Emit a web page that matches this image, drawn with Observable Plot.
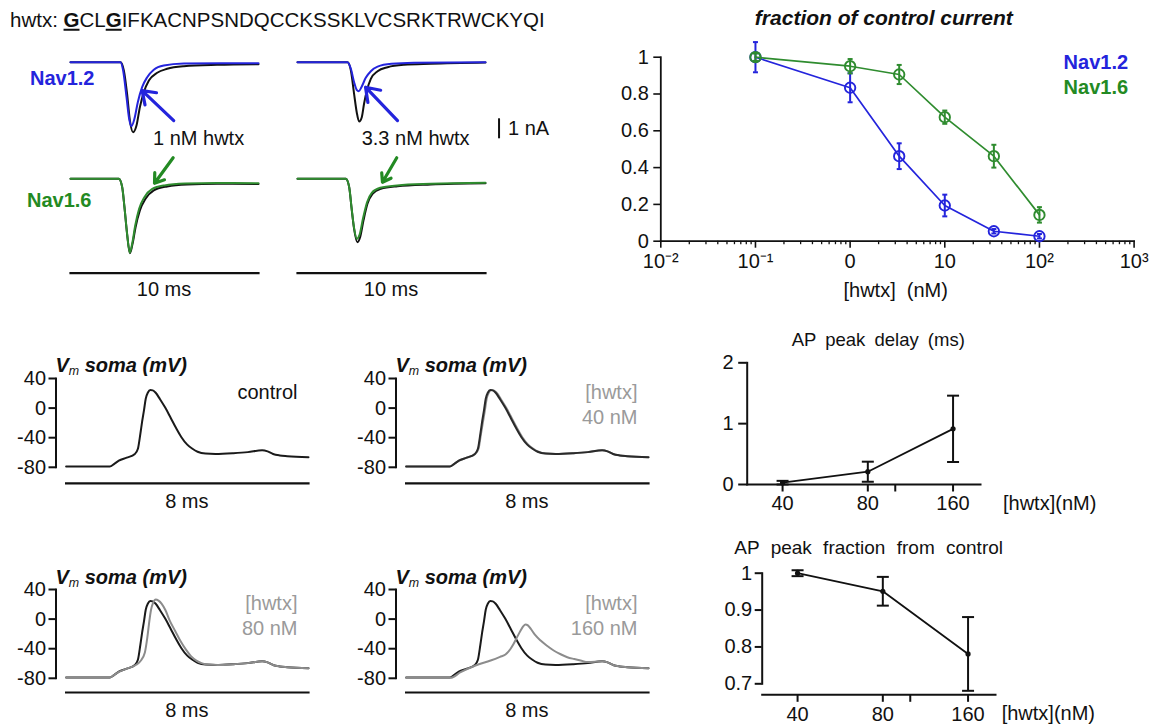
<!DOCTYPE html>
<html><head><meta charset="utf-8">
<script src="https://cdn.jsdelivr.net/npm/d3@7"></script>
<script src="https://cdn.jsdelivr.net/npm/@observablehq/plot@0.6"></script>
<style>
html,body{margin:0;padding:0;background:#fff;}
#fig{position:relative;width:1149px;height:724px;overflow:hidden;font-family:"Liberation Sans",Arial,sans-serif;color:#111;background:#fff;}
.pbox{position:absolute;}
.lbl{position:absolute;white-space:nowrap;line-height:1;}
sub{font-size:62%;vertical-align:-0.25em;line-height:0;}
</style></head><body><div id="fig"></div>
<script>
// ---------------- DATA ----------------
// Voltage-clamp Na currents (time ms, current nA)
const nav12_ctrl_A = [[0,0],[2.66,0],[2.84,-0.42],[3.01,-1.58],[3.16,-2.92],[3.33,-3.5],[3.51,-3.17],[3.69,-2.25],[3.90,-1.5],[4.17,-0.92],[4.61,-0.53],[5.14,-0.33],[6.03,-0.2],[7.8,-0.13],[10,-0.1]];
const nav12_1nM   = [[0,0],[2.66,0],[2.8,-0.42],[2.98,-1.75],[3.12,-2.83],[3.24,-3.2],[3.4,-2.83],[3.58,-2.0],[3.81,-1.25],[4.08,-0.75],[4.43,-0.38],[4.96,-0.17],[6.03,-0.07],[8,-0.05],[10,-0.05]];
const nav16_ctrl_A = [[0,0],[2.57,0],[2.75,-0.42],[2.87,-1.42],[3.01,-2.75],[3.16,-3.72],[3.3,-3.25],[3.46,-2.42],[3.69,-1.58],[3.99,-1.0],[4.43,-0.58],[5.14,-0.38],[6.2,-0.28],[7.8,-0.25],[10,-0.26]];
const nav16_1nM   = [[0,0],[2.57,0],[2.75,-0.42],[2.87,-1.42],[3.01,-2.75],[3.15,-3.7],[3.29,-3.2],[3.44,-2.35],[3.65,-1.5],[3.93,-0.92],[4.33,-0.52],[5.0,-0.33],[6.1,-0.24],[7.8,-0.21],[10,-0.22]];
const nav12_ctrl_B = [[0,0],[2.66,0],[2.84,-0.42],[3.01,-1.58],[3.15,-2.5],[3.28,-2.97],[3.42,-2.75],[3.54,-2.08],[3.69,-1.42],[3.9,-0.83],[4.26,-0.45],[4.79,-0.25],[5.67,-0.13],[7.09,-0.08],[10,-0.02]];
const nav12_3nM   = [[0,0],[2.66,0],[2.84,-0.33],[3.01,-1.0],[3.15,-1.38],[3.26,-1.45],[3.4,-1.25],[3.63,-0.78],[3.9,-0.45],[4.26,-0.22],[5.0,-0.08],[6.2,-0.03],[10,0]];
const nav16_ctrl_B = [[0,0],[2.57,0],[2.75,-0.42],[2.87,-1.42],[3.01,-2.5],[3.19,-3.17],[3.33,-2.92],[3.51,-2.08],[3.72,-1.25],[3.99,-0.75],[4.43,-0.5],[5.32,-0.37],[7.09,-0.28],[10,-0.22]];
const nav16_3nM   = [[0,0],[2.57,0],[2.75,-0.42],[2.87,-1.4],[3.0,-2.4],[3.16,-3.0],[3.3,-2.8],[3.48,-2.0],[3.7,-1.17],[3.95,-0.7],[4.4,-0.45],[5.3,-0.33],[7.1,-0.25],[10,-0.2]];
// annotation arrows (time ms, current nA) and 1 nA scale bar
const arrowsNav12 = {A: [[5.49,-2.92,3.81,-1.42]], B: [[5.32,-2.92,3.62,-1.25]]};
const arrowsNav16 = {A: [[5.46,1.05,4.47,-0.22]], B: [[5.28,1.05,4.52,-0.17]]};
const scaleBar1nA = [[10.72,-2.83,-3.83]];

// Dose response: fraction of control current
const concNM    = [0.1, 1, 3.3, 10, 33, 100];
const nav12Frac = [1.0, 0.834, 0.462, 0.194, 0.054, 0.027];
const nav12Err  = [0.082, 0.079, 0.07, 0.059, 0.012, 0.012];
const nav16Frac = [1.0, 0.951, 0.906, 0.674, 0.462, 0.143];
const nav16Err  = [0.02, 0.039, 0.052, 0.036, 0.062, 0.042];
const doseTicks = [0.01, 0.1, 1, 10, 100, 1000];
const doseTickLabels = ["10\u207B\u00B2", "10\u207B\u00B9", "0", "10", "10\u00B2", "10\u00B3"];
const fracTicks = [0, 0.2, 0.4, 0.6, 0.8, 1];

// Current-clamp APs (time ms, Vm mV)
const apControl = [[0,-79],[1.44,-79],[1.6,-75],[1.74,-71],[2.0,-67],[2.27,-62],[2.37,-55],[2.45,-35],[2.51,-18],[2.57,-3],[2.63,13],[2.7,21],[2.78,24.5],[2.86,24],[2.95,21],[3.1,12],[3.28,0],[3.45,-13],[3.63,-27],[3.8,-39],[3.99,-49],[4.17,-55],[4.34,-59],[4.6,-61.5],[4.93,-62],[5.52,-61],[6.0,-59.5],[6.47,-57],[6.65,-58.5],[6.83,-62],[7.05,-64],[7.3,-65],[8.0,-66.5]];
const ap40nM = [[0,-79],[1.44,-79],[1.6,-75],[1.75,-71],[2.0,-67],[2.28,-62],[2.39,-55],[2.47,-35],[2.54,-18],[2.6,-3],[2.66,13],[2.73,21],[2.81,24.5],[2.89,24],[2.98,21],[3.13,12],[3.31,0],[3.48,-13],[3.66,-27],[3.83,-39],[4.02,-49],[4.2,-55],[4.37,-59],[4.63,-61.5],[4.95,-62],[5.53,-61],[6.0,-59.5],[6.47,-57],[6.65,-58.5],[6.83,-62],[7.05,-64],[7.3,-65],[8.0,-66.5]];
const ap80nM = [[0,-79],[1.44,-79],[1.6,-75],[1.76,-71],[2.0,-67],[2.3,-62],[2.45,-57],[2.6,-45],[2.68,-25],[2.74,-5],[2.8,12],[2.87,22],[2.96,26.5],[3.05,25],[3.15,21],[3.28,12],[3.42,-2],[3.6,-16],[3.78,-30],[3.95,-41],[4.12,-50],[4.3,-56],[4.47,-59.5],[4.7,-61.5],[5.0,-62],[5.52,-61],[6.0,-59.5],[6.47,-57],[6.65,-58.5],[6.83,-62],[7.05,-64],[7.3,-65],[8.0,-66.5]];
const ap160nM = [[0,-79.3],[1.47,-79.3],[1.8,-71.8],[2.29,-62.7],[2.79,-56],[3.1,-51],[3.28,-47.8],[3.45,-40],[3.55,-33.4],[3.68,-23],[3.78,-15.4],[3.87,-9.5],[3.94,-7.3],[4.02,-8.5],[4.11,-13],[4.25,-21],[4.44,-29],[4.65,-36],[4.87,-42.4],[5.1,-47.5],[5.32,-51.5],[5.55,-54],[5.76,-56],[6.0,-58],[6.47,-57],[6.65,-58.5],[6.83,-62],[7.05,-64],[7.3,-65],[8.0,-66.5]];
const apYTicks = [-80, -40, 0, 40];

// AP summary
const apConc      = [40, 80, 160];
const apDelay     = [0.03, 0.21, 0.915];
const apDelayErr  = [0.03, 0.165, 0.545];
const apFrac      = [1.0, 0.951, 0.781];
const apFracErr   = [0.008, 0.039, 0.1];
const apXTicks    = [40, 80, 100, 160];
const apXTickLabels = ["40", "80", "", "160"];

// ---------------- STYLE / LAYOUT ----------------
const FONT = '"Liberation Sans", Arial, sans-serif';
const INK = "#111", BLUE = "#2424dc", GREEN = "#238a23", GREENL = "#2f8c2f", GRAY = "#8c8c8c", LGRAY = "#9a9a9a";
const fig = document.getElementById("fig");
const baseStyle = {background: "none", overflow: "visible", fontFamily: FONT, fontSize: "20px", color: INK};

function place(node, left, top) {
  const w = document.createElement("div");
  w.className = "pbox"; w.style.left = left + "px"; w.style.top = top + "px";
  w.appendChild(node); fig.appendChild(w);
}
function label(html, x, y, o = {}) {
  const d = document.createElement("div");
  d.className = "lbl"; d.innerHTML = html;
  const tx = o.anchor === "middle" ? "-50%" : o.anchor === "end" ? "-100%" : "0";
  Object.assign(d.style, {left: x + "px", top: y + "px", fontSize: (o.size || 20) + "px",
    fontWeight: o.weight || "normal", fontStyle: o.style || "normal", color: o.color || INK,
    wordSpacing: (o.ws || 0) + "px", transform: `translate(${tx},-50%)`});
  fig.appendChild(d);
}
const hbar = {draw(ctx, size) { const r = Math.sqrt(size / Math.PI); ctx.moveTo(-r, 0); ctx.lineTo(r, 0); }};
const X = d => d[0], Y = d => d[1];

// ---------- current traces ----------
const PX_MS = 18.8, PX_NA = 20;
function currentPlot({left, top, bottom, base, series, arrows, color, bar, extra = []}) {
  const width = 10 * PX_MS, height = bottom - top;
  const plot = Plot.plot({
    width, height, margin: 0,
    x: {domain: [0, 10], axis: null},
    y: {domain: [-(bottom - base) / PX_NA, (base - top) / PX_NA], axis: null},
    style: baseStyle,
    marks: [
      ...series.map(s => Plot.line(s.data, {x: X, y: Y, stroke: s.color, strokeWidth: 2, curve: "monotone-x"})),
      Plot.arrow(arrows, {x1: d => d[0], y1: d => d[1], x2: d => d[2], y2: d => d[3], stroke: color, strokeWidth: 3.2, headLength: 12, headAngle: 70}),
      bar ? Plot.frame({anchor: "bottom", stroke: INK, strokeWidth: 2.2}) : null,
      ...extra
    ]
  });
  place(plot, left, top);
}
currentPlot({left: 70, top: 40, bottom: 150, base: 61.7, color: BLUE, arrows: arrowsNav12.A,
  series: [{data: nav12_ctrl_A, color: INK}, {data: nav12_1nM, color: BLUE}]});
currentPlot({left: 70, top: 145, bottom: 272.7, base: 178.3, color: GREEN, arrows: arrowsNav16.A, bar: true,
  series: [{data: nav16_ctrl_A, color: INK}, {data: nav16_1nM, color: GREENL}]});
currentPlot({left: 296.7, top: 40, bottom: 150, base: 61.7, color: BLUE, arrows: arrowsNav12.B,
  series: [{data: nav12_ctrl_B, color: INK}, {data: nav12_3nM, color: BLUE}],
  extra: [Plot.ruleX(scaleBar1nA, {x: d => d[0], y1: d => d[1], y2: d => d[2], stroke: INK, strokeWidth: 2})]});
currentPlot({left: 296.7, top: 145, bottom: 272.7, base: 178.3, color: GREEN, arrows: arrowsNav16.B, bar: true,
  series: [{data: nav16_ctrl_B, color: INK}, {data: nav16_3nM, color: GREENL}]});

// ---------- dose response ----------
function doseMarks(vals, errs, color) {
  const d = concNM.map((c, i) => ({c, v: vals[i], lo: vals[i] - errs[i], hi: vals[i] + errs[i]}));
  return [
    Plot.ruleX(d, {x: "c", y1: "lo", y2: "hi", stroke: color, strokeWidth: 2}),
    Plot.dot(d, {x: "c", y: "lo", symbol: hbar, r: 2.5, stroke: color, strokeWidth: 2, fill: "none"}),
    Plot.dot(d, {x: "c", y: "hi", symbol: hbar, r: 2.5, stroke: color, strokeWidth: 2, fill: "none"}),
    Plot.line(d, {x: "c", y: "v", stroke: color, strokeWidth: 1.7}),
    Plot.dot(d, {x: "c", y: "v", r: 5.2, stroke: color, strokeWidth: 1.9, fill: "none"})
  ];
}
const minorTicks = [];
for (let k = -2; k < 3; k++) for (let m = 2; m < 10; m++) minorTicks.push(m * Math.pow(10, k));
const doseLab = new Map(doseTicks.map((t, i) => [t, doseTickLabels[i]]));
place(Plot.plot({
  width: 569, height: 310, marginLeft: 80.3, marginRight: 15.4, marginTop: 56.7, marginBottom: 69.3,
  x: {type: "log", domain: [0.01, 1000], label: null},
  y: {domain: [0, 1], label: null},
  style: baseStyle,
  marks: [
    Plot.axisY({ticks: fracTicks, tickSize: 7, tickPadding: 5, strokeWidth: 1.6, tickFormat: d => String(d), label: null}),
    Plot.axisX({ticks: minorTicks, tickSize: 3.5, strokeWidth: 1.3, tickFormat: () => "", label: null}),
    Plot.axisX({ticks: doseTicks, tickSize: 7, tickPadding: 6, strokeWidth: 1.6, tickFormat: d => doseLab.get(d), label: null}),
    Plot.frame({anchor: "left", stroke: INK, strokeWidth: 1.8}),
    Plot.frame({anchor: "bottom", stroke: INK, strokeWidth: 1.8}),
    ...doseMarks(nav12Frac, nav12Err, BLUE),
    ...doseMarks(nav16Frac, nav16Err, GREENL)
  ]
}), 580, 0);

// ---------- AP traces ----------
function apPlot({left, axisX, traceL, traceR, top40, bot80, bar, series}) {
  const top = top40 - 17, mL = axisX - left, width = traceR + 10 - left;
  place(Plot.plot({
    width, height: bar + 5 - top, marginLeft: mL, marginRight: 10, marginTop: top40 - top, marginBottom: 5,
    x: {domain: [0, 8], insetLeft: traceL - axisX, axis: null},
    y: {domain: [-80, 40], insetBottom: bar - bot80, label: null},
    style: baseStyle,
    marks: [
      Plot.axisY({ticks: apYTicks, tickSize: 7, tickPadding: 3, strokeWidth: 2, tickFormat: d => String(d), label: null}),
      Plot.frame({anchor: "left", insetBottom: bar - bot80, stroke: INK, strokeWidth: 2}),
      Plot.frame({anchor: "bottom", insetLeft: traceL - axisX, stroke: INK, strokeWidth: 2.2}),
      ...series.map(s => Plot.line(s.data, {x: X, y: Y, stroke: s.color, strokeWidth: 2, curve: "monotone-x"}))
    ]
  }), left, top);
}
apPlot({left: 0, axisX: 55.5, traceL: 65.6, traceR: 308, top40: 377.5, bot80: 466.3, bar: 482.3,
  series: [{data: apControl, color: "#1a1a1a"}]});
apPlot({left: 340, axisX: 395.5, traceL: 405.6, traceR: 648, top40: 377.5, bot80: 466.3, bar: 482.3,
  series: [{data: ap40nM, color: GRAY}, {data: apControl, color: "#2a2a2a"}]});
apPlot({left: 0, axisX: 55.5, traceL: 65.6, traceR: 308, top40: 589, bot80: 677.8, bar: 692,
  series: [{data: apControl, color: "#1a1a1a"}, {data: ap80nM, color: GRAY}]});
apPlot({left: 340, axisX: 395.5, traceL: 405.6, traceR: 648, top40: 589, bot80: 677.8, bar: 692,
  series: [{data: apControl, color: "#1a1a1a"}, {data: ap160nM, color: GRAY}]});

// ---------- AP summaries ----------
function summaryMarks(vals, errs) {
  const d = apConc.map((c, i) => ({c, v: vals[i], lo: vals[i] - errs[i], hi: vals[i] + errs[i]}));
  return [
    Plot.ruleX(d, {x: "c", y1: "lo", y2: "hi", stroke: INK, strokeWidth: 2}),
    Plot.dot(d, {x: "c", y: "lo", symbol: hbar, r: 6, stroke: INK, strokeWidth: 2, fill: "none"}),
    Plot.dot(d, {x: "c", y: "hi", symbol: hbar, r: 6, stroke: INK, strokeWidth: 2, fill: "none"}),
    Plot.line(d, {x: "c", y: "v", stroke: INK, strokeWidth: 1.8}),
    Plot.dot(d, {x: "c", y: "v", r: 2.6, fill: INK})
  ];
}
const apLab = new Map(apXTicks.map((t, i) => [t, apXTickLabels[i]]));
place(Plot.plot({
  width: 320, height: 194, marginLeft: 66.7, marginRight: 20, marginTop: 32.3, marginBottom: 40,
  x: {type: "log", domain: [30, 200], label: null},
  y: {domain: [0, 2], label: null},
  style: baseStyle,
  marks: [
    Plot.axisY({ticks: [0, 1, 2], tickSize: 8.5, tickPadding: 5, strokeWidth: 2, tickFormat: d => String(d), label: null}),
    Plot.axisX({ticks: apXTicks, tickSize: 7.5, tickPadding: 4, strokeWidth: 2, tickFormat: d => apLab.get(d), label: null}),
    Plot.frame({anchor: "left", stroke: INK, strokeWidth: 2}),
    Plot.frame({anchor: "bottom", stroke: INK, strokeWidth: 2}),
    ...summaryMarks(apDelay, apDelayErr)
  ]
}), 680, 330);
place(Plot.plot({
  width: 335, height: 184, marginLeft: 81.7, marginRight: 20, marginTop: 32.7, marginBottom: 29.7,
  x: {type: "log", domain: [30, 200], label: null},
  y: {domain: [0.7, 1], insetBottom: 11, label: null},
  style: baseStyle,
  marks: [
    Plot.axisY({ticks: [0.7, 0.8, 0.9, 1], tickSize: 7, tickPadding: 3, strokeWidth: 2, tickFormat: d => String(d), label: null}),
    Plot.axisX({ticks: apXTicks, tickSize: 7.5, tickPadding: 4, strokeWidth: 2, tickFormat: d => apLab.get(d), label: null}),
    Plot.frame({anchor: "left", insetBottom: 11, stroke: INK, strokeWidth: 2}),
    Plot.frame({anchor: "bottom", stroke: INK, strokeWidth: 2}),
    ...summaryMarks(apFrac, apFracErr)
  ]
}), 680, 540);

// ---------------- TEXT ----------------
label('hwtx: <b><u>G</u></b>CL<b><u>G</u></b>IFKACNPSNDQCCKSSKLVCSRKTRWCKYQI', 10, 20, {size: 20.5});
label('Nav1.2', 30, 78, {weight: "bold", color: BLUE});
label('Nav1.6', 27, 200, {weight: "bold", color: GREEN});
label('1 nM hwtx', 153, 138);
label('3.3 nM hwtx', 361.7, 138);
label('1 nA', 508, 127.5);
label('10 ms', 164, 289, {anchor: "middle"});
label('10 ms', 391, 289, {anchor: "middle"});
label('fraction of control current', 883.8, 16.7, {anchor: "middle", weight: "bold", style: "italic", size: 21});
label('Nav1.2', 1063.6, 61.7, {weight: "bold", color: BLUE});
label('Nav1.6', 1063.6, 87.3, {weight: "bold", color: GREEN});
label('[hwtx]&nbsp; (nM)', 895.7, 290, {anchor: "middle"});
const vm = '<i>V</i><sub style="font-weight:normal">m</sub> soma (mV)';
label(vm, 55.5, 365, {weight: "bold", style: "italic"});
label(vm, 395.5, 365, {weight: "bold", style: "italic"});
label(vm, 55.5, 576.7, {weight: "bold", style: "italic"});
label(vm, 395.5, 576.7, {weight: "bold", style: "italic"});
label('control', 297.5, 391.7, {anchor: "end"});
label('[hwtx]', 637.5, 391.5, {anchor: "end", color: LGRAY});
label('40 nM', 637.5, 416.5, {anchor: "end", color: LGRAY});
label('[hwtx]', 297.5, 603, {anchor: "end", color: LGRAY});
label('80 nM', 297.5, 628, {anchor: "end", color: LGRAY});
label('[hwtx]', 637.5, 603, {anchor: "end", color: LGRAY});
label('160 nM', 637.5, 628, {anchor: "end", color: LGRAY});
label('8 ms', 186.8, 500.6, {anchor: "middle"});
label('8 ms', 526.8, 500.6, {anchor: "middle"});
label('8 ms', 186.8, 710, {anchor: "middle"});
label('8 ms', 526.8, 710, {anchor: "middle"});
label('AP peak delay (ms)', 878.3, 340, {anchor: "middle", size: 18.5, ws: 4});
label('[hwtx](nM)', 1003, 502.7);
label('AP peak fraction from control', 868.7, 547.3, {anchor: "middle", size: 19, ws: 6});
label('[hwtx](nM)', 1001.7, 713);
</script></body></html>
